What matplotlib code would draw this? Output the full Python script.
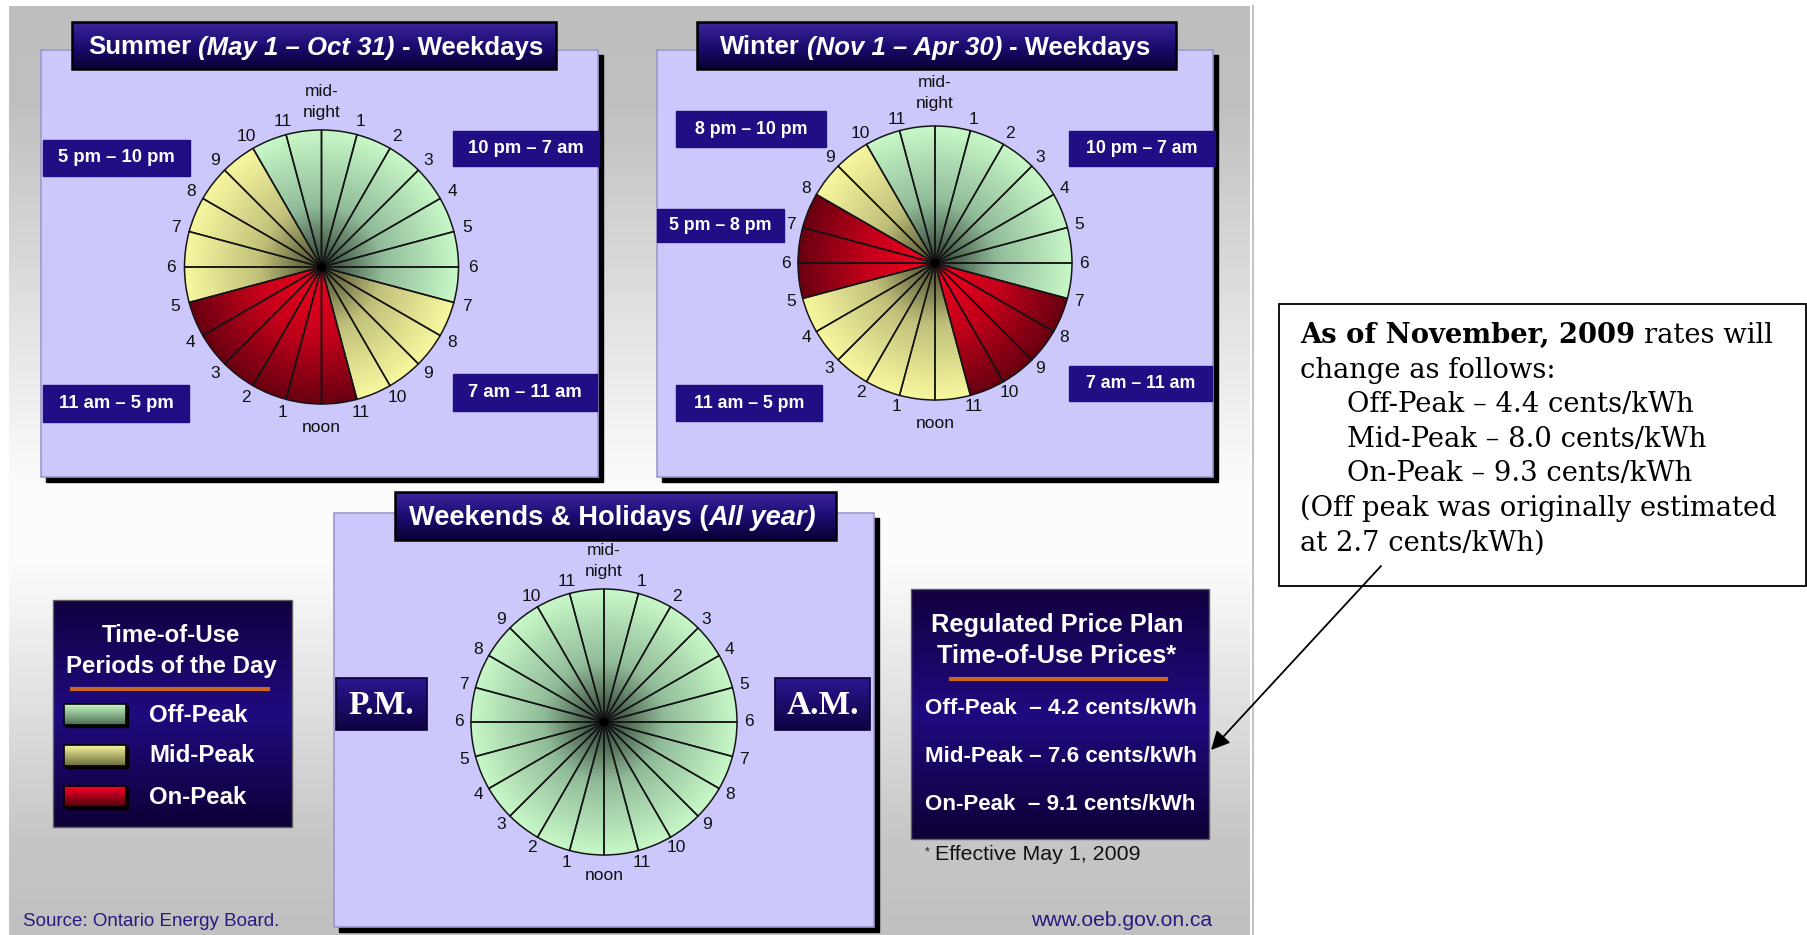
import numpy as np
import matplotlib.pyplot as plt
from matplotlib.patches import Rectangle, Circle
from matplotlib.colors import LinearSegmentedColormap

plt.rcParams['font.family'] = ['Liberation Sans', 'DejaVu Sans']

W, H = 1808, 935

# period of each hourly slot, from midnight going clockwise
summer_periods = ['off'] * 7 + ['mid'] * 4 + ['on'] * 6 + ['mid'] * 5 + ['off'] * 2
winter_periods = ['off'] * 7 + ['on'] * 4 + ['mid'] * 6 + ['on'] * 3 + ['mid'] * 2 + ['off'] * 2
weekend_periods = ['off'] * 24

clock_labels = ['mid-\nnight'] + [str(h) for h in range(1, 12)] + ['noon'] + [str(h) for h in range(1, 12)]

summer_titles = ['Summer', '(May 1 – Oct 31)', '- Weekdays']
winter_titles = ['Winter', '(Nov 1 – Apr 30)', '- Weekdays']
weekend_titles = ['Weekends & Holidays (', 'All year)']

summer_ranges = ['5 pm – 10 pm', '10 pm – 7 am', '11 am – 5 pm', '7 am – 11 am']
winter_ranges = ['8 pm – 10 pm', '10 pm – 7 am', '5 pm – 8 pm', '11 am – 5 pm', '7 am – 11 am']

legend_names = ['Off-Peak', 'Mid-Peak', 'On-Peak']
legend_keys = ['off', 'mid', 'on']
price_lines = ['Off-Peak  – 4.2 cents/kWh', 'Mid-Peak – 7.6 cents/kWh', 'On-Peak  – 9.1 cents/kWh']

note_lines = ['change as follows:', 'Off-Peak – 4.4 cents/kWh', 'Mid-Peak – 8.0 cents/kWh',
              'On-Peak – 9.3 cents/kWh', '(Off peak was originally estimated', 'at 2.7 cents/kWh)']
note_indent = [False, True, True, True, False, False]

# radial shading of the wedges (centre -> rim)
shade = {
    'off': [(0, '#2a362c'), (0.45, '#90bb98'), (1, '#c8f8c8')],
    'mid': [(0, '#44442a'), (0.45, '#c0c07a'), (1, '#f8f8a0')],
    'on':  [(0, '#a00016'), (0.12, '#ea001e'), (0.5, '#c4001a'), (1, '#680010')],
}
rim = {k: v[-1][1] for k, v in shade.items()}
cmaps = {k: LinearSegmentedColormap.from_list(k, v) for k, v in shade.items()}

fig = plt.figure(figsize=(W / 100, H / 100), dpi=100)
ax = fig.add_axes([0, 0, 1, 1])
ren = fig.canvas.get_renderer()

navy = '#210d84'


def vgrad(x0, y0, x1, y1, stops, z):
    cm = LinearSegmentedColormap.from_list('g', stops)
    arr = np.linspace(0, 1, 256).reshape(-1, 1)
    ax.imshow(arr, cmap=cm, extent=(x0, x1, y1, y0), aspect='auto', origin='upper',
              interpolation='bilinear', zorder=z)


def chain(x, y, parts, size, **kw):
    # parts: (text, style, gap before in px)
    for s, st, gap in parts:
        x += gap
        t = ax.text(x, y, s, fontsize=size, style=st, ha='left', **kw)
        x += t.get_window_extent(renderer=ren).width
    return x


def panel(x0, y0, x1, y1):
    ax.add_patch(Rectangle((x0 + 5, y0 + 5), x1 - x0, y1 - y0, color='black', zorder=2))
    ax.add_patch(Rectangle((x0, y0), x1 - x0, y1 - y0, facecolor='#ccc8fc',
                           edgecolor='#9c98cc', lw=1.2, zorder=3))


def title_box(x0, y0, x1, y1, parts, tx, size=18.5):
    vgrad(x0, y0, x1, y1, [(0, '#3e259c'), (0.5, '#1c0c72'), (1, '#0a0034')], 5)
    ax.add_patch(Rectangle((x0, y0), x1 - x0, y1 - y0, facecolor='none', edgecolor='black', lw=1.8, zorder=6))
    chain(tx, (y0 + y1) / 2 + 9, parts, size, color='white', fontweight='bold', va='baseline', zorder=7)


def label_box(x0, y0, x1, y1, s, size=13.3):
    ax.add_patch(Rectangle((x0, y0), x1 - x0, y1 - y0, color=navy, zorder=5))
    ax.text((x0 + x1) / 2, (y0 + y1) / 2, s, color='white', fontsize=size, fontweight='bold',
            ha='center', va='center', zorder=6)


def clock_pie(cx, cy, r, periods, mid_off, noon_off, num_off):
    hs = r + 50
    pax = fig.add_axes([(cx - hs) / W, 1 - (cy + hs) / H, 2 * hs / W, 2 * hs / H])
    n = np.ones(len(periods))
    wedges, _ = pax.pie(n, radius=r, startangle=90, counterclock=False,
                        colors=[rim[p] for p in periods], wedgeprops=dict(linewidth=0))
    g = np.linspace(-1, 1, 401)
    rr = np.clip(np.hypot(*np.meshgrid(g, g)), 0, 1)
    for w, p in zip(wedges, periods):
        im = pax.imshow(cmaps[p](rr), extent=(-r, r, -r, r), origin='lower',
                        interpolation='bilinear', zorder=2)
        im.set_clip_path(w)
    pax.pie(n, radius=r, startangle=90, counterclock=False,
            wedgeprops=dict(fill=False, edgecolor='#151515', linewidth=1.1, zorder=3))
    pax.add_patch(Circle((0, 0), 4, color='black', zorder=4))
    for i, lab in enumerate(clock_labels):
        a = np.deg2rad(90 - 15 * i)
        d = r + (mid_off if i == 0 else noon_off if i == 12 else num_off)
        pax.text(d * np.cos(a), d * np.sin(a), lab, ha='center', va='center',
                 fontsize=12.5, linespacing=1.45, color='#111111')
    pax.set_xlim(-hs, hs)
    pax.set_ylim(-hs, hs)
    pax.axis('off')


# background panel
vgrad(9, 6, 1250, H, [(0, '#bebebe'), (0.1, '#c0c0c0'), (0.52, '#fdfdfd'), (0.6, '#fcfcfc'),
                      (0.9, '#c6c6c6'), (1, '#c0c0c0')], 0)
ax.plot([1253.5, 1253.5], [6, H], color='#c4c4c4', lw=1.5, zorder=1)

# summer
panel(41, 50, 598, 477)
title_box(72, 22, 556, 69, [(summer_titles[0], 'normal', 0), (summer_titles[1], 'italic', 7),
                            (summer_titles[2], 'normal', 7)], 88)
for (x0, y0, x1, y1), s in zip([(43, 140, 190, 176), (453, 131, 599, 166),
                                (43, 385, 189, 422), (453, 374, 597, 411)], summer_ranges):
    label_box(x0, y0, x1, y1, s)
clock_pie(321.5, 267, 137, summer_periods, 28, 23, 14)

# winter
panel(657, 50, 1213, 477)
title_box(697, 22, 1176, 69, [(winter_titles[0], 'normal', 0), (winter_titles[1], 'italic', 7),
                              (winter_titles[2], 'normal', 7)], 720)
for (x0, y0, x1, y1), s in zip([(676, 111, 826, 147), (1069, 131, 1215, 166), (657, 209, 784, 242),
                                (676, 385, 822, 421), (1069, 366, 1212, 401)], winter_ranges):
    label_box(x0, y0, x1, y1, s, 12.8)
clock_pie(935, 263, 137, winter_periods, 33, 23, 12)

# weekends
panel(334, 513, 874, 927)
title_box(395, 492, 836, 540, [(weekend_titles[0], 'normal', 0), (weekend_titles[1], 'italic', 0)], 409, 19.6)
for x0, x1, s in [(336, 427, 'P.M.'), (775, 870, 'A.M.')]:
    vgrad(x0, 678, x1, 730, [(0, '#2c1690'), (1, '#0e0242')], 5)
    ax.add_patch(Rectangle((x0, 678), x1 - x0, 52, facecolor='none', edgecolor='#0a0030', lw=1.2, zorder=6))
    ax.text((x0 + x1) / 2, 706, s, color='white', fontsize=24, fontweight='bold',
            family='Liberation Serif', ha='center', va='center', zorder=7)
clock_pie(604, 722, 133, weekend_periods, 28, 20, 12)

# legend box
box_stops = [(0, '#120040'), (0.5, '#200a80'), (1, '#0e0036')]
vgrad(53, 600, 292, 827, box_stops, 5)
ax.add_patch(Rectangle((53, 600), 239, 227, facecolor='none', edgecolor='#606060', lw=1, zorder=6))
ax.text(171, 635, 'Time-of-Use', color='white', fontsize=17.3, fontweight='bold', ha='center', va='center', zorder=7)
ax.text(171, 666, 'Periods of the Day', color='white', fontsize=17.3, fontweight='bold', ha='center', va='center', zorder=7)
ax.plot([72, 268], [689, 689], color='#c8651e', lw=3, zorder=7)
sw_stops = {'off': ['#c8f8c8', '#4a6a4e'], 'mid': ['#f8f8a0', '#6a6a3a'], 'on': ['#ff0028', '#4a000c']}
for i, (k, name) in enumerate(zip(legend_keys, legend_names)):
    y0 = 704 + 41 * i
    ax.add_patch(Rectangle((66, y0 + 2), 62, 21, color='black', zorder=6))
    vgrad(64, y0, 126, y0 + 21, [(0, sw_stops[k][0]), (1, sw_stops[k][1])], 7)
    ax.add_patch(Rectangle((64, y0), 62, 21, facecolor='none', edgecolor='black', lw=1.2, zorder=8))
    ax.text(149, y0 + 11, name, color='white', fontsize=17.3, fontweight='bold', ha='left', va='center', zorder=8)

# price box
vgrad(911, 589, 1209, 839, box_stops, 5)
ax.add_patch(Rectangle((911, 589), 298, 250, facecolor='none', edgecolor='#606060', lw=1, zorder=6))
ax.text(1057, 625, 'Regulated Price Plan', color='white', fontsize=18.3, fontweight='bold', ha='center', va='center', zorder=7)
ax.text(1057, 656, 'Time-of-Use Prices*', color='white', fontsize=18.3, fontweight='bold', ha='center', va='center', zorder=7)
ax.plot([951, 1166], [679, 679], color='#c8651e', lw=3, zorder=7)
for i, s in enumerate(price_lines):
    ax.text(925, 708 + 48.5 * i, s, color='white', fontsize=16.1, fontweight='bold', ha='left', va='center', zorder=7)
ax.text(925, 852, '*', fontsize=9, ha='left', va='center', color='#222222')
ax.text(935, 854, 'Effective May 1, 2009', fontsize=15.4, ha='left', va='center', color='#111111')

ax.text(23, 922, 'Source: Ontario Energy Board.', fontsize=13.5, color='#2a1a80', ha='left', va='center')
ax.text(1212, 921, 'www.oeb.gov.on.ca', fontsize=15.2, color='#2a1a80', ha='right', va='center')

# note box on the right
ax.add_patch(Rectangle((1279, 304), 527, 282, facecolor='white', edgecolor='black', lw=1.3, zorder=3))
serif = dict(family='DejaVu Serif', color='black', va='baseline', zorder=4)
end = chain(1300, 343, [('As of November, 2009', 'normal', 0)], 19.7, fontweight='bold', **serif)
ax.text(end + 9, 343, 'rates will', fontsize=19.7, **serif)
for i, (s, ind) in enumerate(zip(note_lines, note_indent)):
    ax.text(1347 if ind else 1300, 377.6 + 34.6 * i, s, fontsize=19.7, **serif)
ax.annotate('', xy=(1211, 750), xytext=(1381, 566),
            arrowprops=dict(arrowstyle='-|>', color='black', lw=1.3, mutation_scale=28, shrinkA=0, shrinkB=0))

ax.set_xlim(0, W)
ax.set_ylim(H, 0)
ax.axis('off')

fig.savefig('out.png', dpi=100)
